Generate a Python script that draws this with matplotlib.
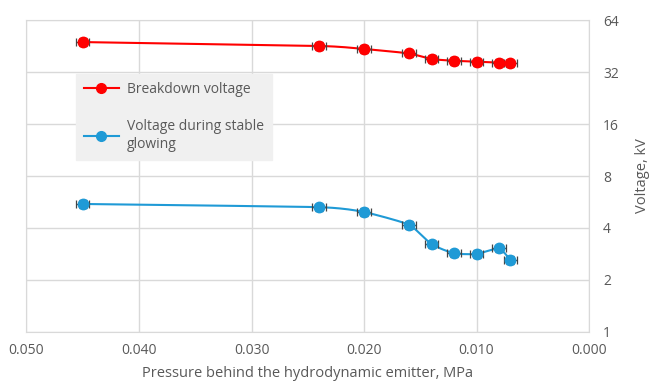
import matplotlib.pyplot as plt
import numpy as np

presion = [0.045, 0.024, 0.020, 0.016, 0.014, 0.012, 0.010, 0.008, 0.007]
v_ruptura = [47.7, 45.3, 43.5, 41.0, 38.0, 37.2, 36.7, 36.3, 36.0]
v_estable = [5.51, 5.28, 4.95, 4.18, 3.22, 2.85, 2.83, 3.05, 2.62]
err_x = 0.0006
err_rel = 0.05

yticks = [1, 2, 4, 8, 16, 32, 64]
xticks = [0.050, 0.040, 0.030, 0.020, 0.010, 0.000]

gris = "#595959"
rojo = "#ff0000"
azul = "#1f9ad6"


def suavizar(x, y, n=30):
    # curva tipo Catmull-Rom (como la linea suavizada de Excel), en escala log
    x = np.asarray(x, float)
    y = np.log2(np.asarray(y, float))
    px = np.concatenate([[2 * x[0] - x[1]], x, [2 * x[-1] - x[-2]]])
    py = np.concatenate([[2 * y[0] - y[1]], y, [2 * y[-1] - y[-2]]])
    xs, ys = [], []
    for i in range(1, len(px) - 2):
        t = np.linspace(0, 1, n)
        for p, out in ((px, xs), (py, ys)):
            p0, p1, p2, p3 = p[i - 1], p[i], p[i + 1], p[i + 2]
            m1 = (p2 - p0) / 2 * 0.5
            m2 = (p3 - p1) / 2 * 0.5
            h00 = 2 * t**3 - 3 * t**2 + 1
            h10 = t**3 - 2 * t**2 + t
            h01 = -2 * t**3 + 3 * t**2
            h11 = t**3 - t**2
            out.extend(h00 * p1 + h10 * m1 + h01 * p2 + h11 * m2)
    return np.array(xs), 2 ** np.array(ys)


plt.rcParams['font.family'] = ['Open Sans', 'DejaVu Sans']

fig = plt.figure(figsize=(6.49, 3.85), dpi=100)
ax = fig.add_axes([0.0408, 0.1377, 0.8668, 0.8103])

for datos, color, nombre in ((v_ruptura, rojo, "Breakdown voltage"),
                             (v_estable, azul, "Voltage during stable\nglowing")):
    sx, sy = suavizar(presion, datos)
    ax.plot(sx, sy, color=color, lw=1.5, zorder=3)
    ax.errorbar(presion, datos, xerr=err_x, yerr=np.array(datos) * err_rel,
                fmt="none", ecolor="#444444", elinewidth=0.9, capsize=3,
                capthick=0.9, zorder=4)
    ax.plot(presion, datos, "o", color=color, ms=7.5, zorder=5)
    ax.plot([], [], "-o", color=color, ms=7, lw=1.5, label=nombre)

ax.set_yscale("log", base=2)
ax.set_ylim(1, 64)
ax.set_xlim(0.050, 0.000)
ax.set_yticks(yticks)
ax.set_yticklabels([str(v) for v in yticks])
ax.minorticks_off()
ax.set_xticks(xticks)
ax.set_xticklabels([f"{v:.3f}" for v in xticks])

ax.yaxis.tick_right()
ax.yaxis.set_label_position("right")
ax.tick_params(length=0, colors=gris, labelsize=10)
ax.tick_params(axis="y", pad=10)
ax.tick_params(axis="x", pad=8)
ax.grid(True, color="#d9d9d9", lw=1)
ax.set_axisbelow(True)
for s in ax.spines.values():
    s.set_color("#d9d9d9")

ax.set_xlabel("Pressure behind the hydrodynamic emitter, MPa", color=gris,
              fontsize=10.5, labelpad=6)
ax.set_ylabel("Voltage, kV", color=gris, fontsize=10.5, labelpad=12)

leg = ax.legend(loc="upper left", bbox_to_anchor=(0.075, 0.85), frameon=True,
                fancybox=False, facecolor="#f0f0f0", edgecolor="#f0f0f0",
                fontsize=10, labelspacing=1.6, handlelength=2.5,
                handletextpad=0.6, borderpad=0.6, framealpha=1)
for t in leg.get_texts():
    t.set_color(gris)

fig.savefig("out.png", dpi=100)
